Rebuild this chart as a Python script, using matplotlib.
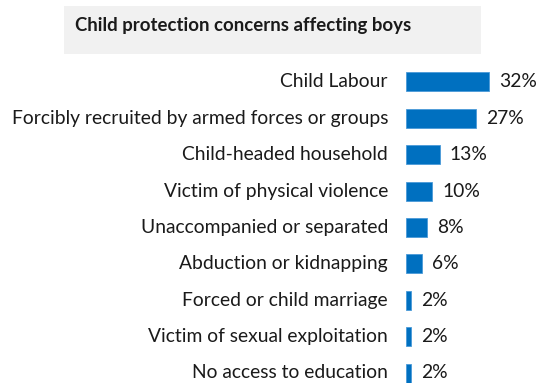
import matplotlib.pyplot as plt
from matplotlib.patches import Rectangle

plt.rcParams['font.family'] = ['Lato', 'DejaVu Sans']

categories = [
    'Child Labour',
    'Forcibly recruited by armed forces or groups',
    'Child-headed household',
    'Victim of physical violence',
    'Unaccompanied or separated',
    'Abduction or kidnapping',
    'Forced or child marriage',
    'Victim of sexual exploitation',
    'No access to education',
]
values = [32, 27, 13, 10, 8, 6, 2, 2, 2]
title = 'Child protection concerns affecting boys'

W, H = 538, 383
fig = plt.figure(figsize=(W / 100, H / 100), dpi=100)

# grey title box
fig.patches.append(Rectangle((64 / W, 1 - 54 / H), (481 - 64) / W, 48 / H,
                             transform=fig.transFigure, facecolor='#f1f1f1',
                             edgecolor='none', zorder=0))
fig.text(75 / W, 1 - 25 / H, title, fontsize=13.4, fontweight='bold',
         color='#1a1a1a', va='center', ha='left')

# axes: first row centre at y=82px, last at y=373px
n = len(categories)
step = (373 - 82) / (n - 1)
top = 82 - step / 2
bottom = 373 + step / 2
px_per_unit = 2.6
ax_left, ax_right = 406, 536
ax = fig.add_axes([ax_left / W, 1 - bottom / H, (ax_right - ax_left) / W, (bottom - top) / H])
ax.set_xlim(0, (ax_right - ax_left) / px_per_unit)
ax.set_ylim(n - 0.5, -0.5)

ypos = list(range(n))
ax.barh(ypos, values, height=19 / step, color='#0070c0', edgecolor='#4a9ad8', linewidth=0.6)
for y, v, c in zip(ypos, values, categories):
    ax.text(v + 10 / px_per_unit, y, f'{v}%', va='center', ha='left',
            fontsize=13.9, color='#1a1a1a')
    ax.text(-18 / px_per_unit, y, c, va='center', ha='right',
            fontsize=13.9, color='#1a1a1a', clip_on=False)

ax.axis('off')
fig.savefig('out.png', dpi=100)
